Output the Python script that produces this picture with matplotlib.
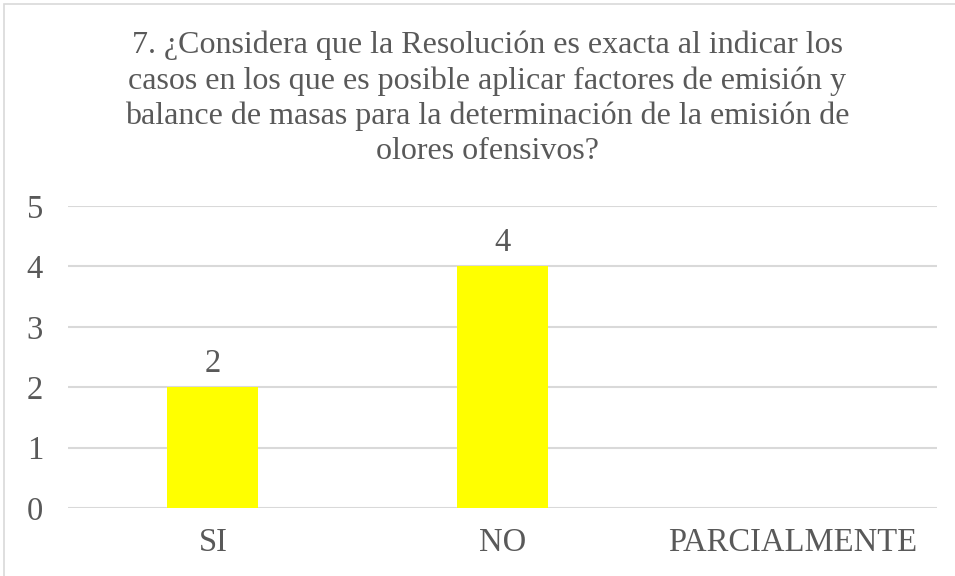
import matplotlib.pyplot as plt
from matplotlib.patches import Rectangle

categories = ["SI", "NO", "PARCIALMENTE"]
counts = [2, 4, 0]
title = ("7. ¿Considera que la Resolución es exacta al indicar los\n"
         "casos en los que es posible aplicar factores de emisión y\n"
         "balance de masas para la determinación de la emisión de\n"
         "olores ofensivos?")

text_color = "#595959"
grid_color = "#d9d9d9"

plt.rcParams['font.family'] = ['Liberation Serif', 'DejaVu Serif']

fig = plt.figure(figsize=(9.55, 5.76), dpi=100)
ax = fig.add_axes([68 / 955, 1 - 508 / 576, (937 - 68) / 955, (508 - 206) / 576])

bars = ax.bar(range(len(categories)), counts, width=0.314, color="#ffff00", zorder=3)
for b, v in zip(bars, counts):
    if v:
        ax.annotate(str(v), (b.get_x() + b.get_width() / 2, v), xytext=(0, 6),
                    textcoords="offset points", ha="center", va="bottom",
                    fontsize=23.5, color=text_color)

ax.set_xlim(-0.5, len(categories) - 0.5)
ax.set_ylim(0, 5)
ax.set_yticks(range(6))
ax.set_xticks(range(len(categories)))
ax.set_xticklabels(categories)
ax.yaxis.grid(True, color=grid_color, linewidth=1.5, zorder=0)
ax.tick_params(axis="both", length=0, labelsize=23.5, colors=text_color)
ax.tick_params(axis="y", pad=18)
ax.tick_params(axis="x", pad=14)
for s in ax.spines.values():
    s.set_visible(False)

fig.text(487 / 955, 1 - 31 / 576, title, ha="center", va="top", fontsize=23,
         color=text_color, linespacing=1.26)

fig.patches.append(Rectangle((4 / 955, -0.01), 1.02, 1 - 4 / 576 + 0.01,
                             transform=fig.transFigure, fill=False,
                             edgecolor=grid_color, linewidth=1.2))

fig.savefig("out.png", dpi=100)
